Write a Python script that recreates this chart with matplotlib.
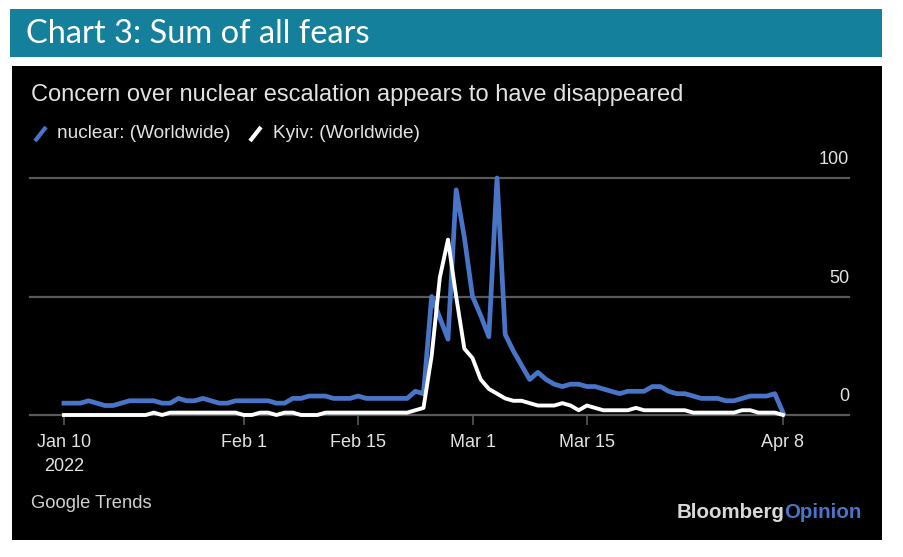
import matplotlib
matplotlib.use("Agg")
import matplotlib.pyplot as plt
from matplotlib.patches import Rectangle
from matplotlib.lines import Line2D
import pandas as pd

# daily Google Trends index, Jan 10 - Apr 8 2022
dates = pd.date_range("2022-01-10", "2022-04-08", freq="D")
nuclear = [5, 5, 5, 6, 5, 4, 4, 5, 6, 6,
           6, 6, 5, 5, 7, 6, 6, 7, 6, 5,
           5, 6, 6, 6, 6, 6, 5, 5, 7, 7,
           8, 8, 8, 7, 7, 7, 8, 7, 7, 7,
           7, 7, 7, 10, 9, 50, 41, 32, 95, 75,
           50, 42, 33, 100, 34, 27, 21, 15, 18, 15,
           13, 12, 13, 13, 12, 12, 11, 10, 9, 10,
           10, 10, 12, 12, 10, 9, 9, 8, 7, 7,
           7, 6, 6, 7, 8, 8, 8, 9, 1]
kyiv = [0, 0, 0, 0, 0, 0, 0, 0, 0, 0,
        0, 1, 0, 1, 1, 1, 1, 1, 1, 1,
        1, 1, 0, 0, 1, 1, 0, 1, 1, 0,
        0, 0, 1, 1, 1, 1, 1, 1, 1, 1,
        1, 1, 1, 2, 3, 25, 58, 74, 50, 28,
        24, 15, 11, 9, 7, 6, 6, 5, 4, 4,
        4, 5, 4, 2, 4, 3, 2, 2, 2, 2,
        3, 2, 2, 2, 2, 2, 2, 1, 1, 1,
        1, 1, 1, 2, 2, 1, 1, 1, 0]

tick_dates = ["2022-01-10", "2022-02-01", "2022-02-15", "2022-03-01", "2022-03-15", "2022-04-08"]
tick_labels = ["Jan 10\n2022", "Feb 1", "Feb 15", "Mar 1", "Mar 15", "Apr 8"]
y_ticks = [0, 50, 100]

W, H = 904, 557
BLUE = "#4875c8"
TEAL = "#15809c"
GRID = "#595959"
TXT = "#e2e2e2"

plt.rcParams["font.family"] = ["Liberation Sans", "DejaVu Sans"]

fig = plt.figure(figsize=(W / 100, H / 100), dpi=100)
fig.patch.set_facecolor("white")

def fx(x):
    return x / W

def fy(y):
    return 1 - y / H

# header bar and black panel (behind the axes)
fig.add_artist(Rectangle((fx(10), fy(57)), fx(872), 48 / H, transform=fig.transFigure,
                         facecolor=TEAL, edgecolor="none", zorder=-10))
fig.add_artist(Rectangle((fx(12), fy(540)), fx(870), 474 / H, transform=fig.transFigure,
                         facecolor="black", edgecolor="none", zorder=-10))
fig.text(fx(26), fy(34), "Chart 3: Sum of all fears", color="white", fontsize=23.5,
         family=["Lato", "DejaVu Sans"], va="center", ha="left")

fig.text(fx(31), fy(95), "Concern over nuclear escalation appears to have disappeared",
         color=TXT, fontsize=17, va="center", ha="left")

# legend
fig.add_artist(Line2D([fx(35), fx(46)], [fy(141), fy(127)], transform=fig.transFigure,
                      color=BLUE, lw=3, solid_capstyle="butt"))
fig.text(fx(57), fy(134), "nuclear: (Worldwide)", color=TXT, fontsize=13.7,
         va="center", ha="left")
fig.add_artist(Line2D([fx(250), fx(261)], [fy(141), fy(127)], transform=fig.transFigure,
                      color="white", lw=3, solid_capstyle="butt"))
fig.text(fx(273), fy(134), "Kyiv: (Worldwide)", color=TXT, fontsize=13.7,
         va="center", ha="left")

# plot area
ax = fig.add_axes([fx(30), fy(415), (849 - 30) / W, (415 - 178) / H])
ax.set_facecolor("none")
start = pd.Timestamp("2022-01-10")
ax.set_xlim(start - pd.Timedelta(days=4.16), start + pd.Timedelta(days=96.08))
ax.set_ylim(0, 100)
for s in ax.spines.values():
    s.set_visible(False)

for v in y_ticks:
    ax.axhline(v, color=GRID, lw=1.6, zorder=1, clip_on=False)
    ax.annotate(str(v), xy=(1, v), xycoords=("axes fraction", "data"),
                xytext=(0, 7), textcoords="offset points",
                ha="right", va="bottom", color=TXT, fontsize=13)

ax.plot(dates, nuclear, color=BLUE, lw=3.4, clip_on=False, zorder=3)
ax.plot(dates, kyiv, color="white", lw=2.8, clip_on=False, zorder=4)

ax.set_yticks([])
ax.set_xticks(pd.to_datetime(tick_dates))
ax.set_xticklabels(tick_labels, color=TXT, fontsize=13, linespacing=1.5)
ax.tick_params(axis="x", length=7, width=1.2, color=GRID, pad=7, direction="out")

fig.text(fx(31), fy(504), "Google Trends", color="#cfcfcf", fontsize=13.2,
         va="center", ha="left")
t = fig.text(fx(862), fy(512), "Opinion", color=BLUE, fontsize=14.8,
             fontweight="bold", va="center", ha="right")
fig.canvas.draw()
bb = t.get_window_extent()
fig.text(bb.x0 / W, fy(512), "Bloomberg", color="#d8d8d8", fontsize=14.8,
         fontweight="bold", va="center", ha="right")

fig.savefig("out.png", dpi=100, facecolor="white")
